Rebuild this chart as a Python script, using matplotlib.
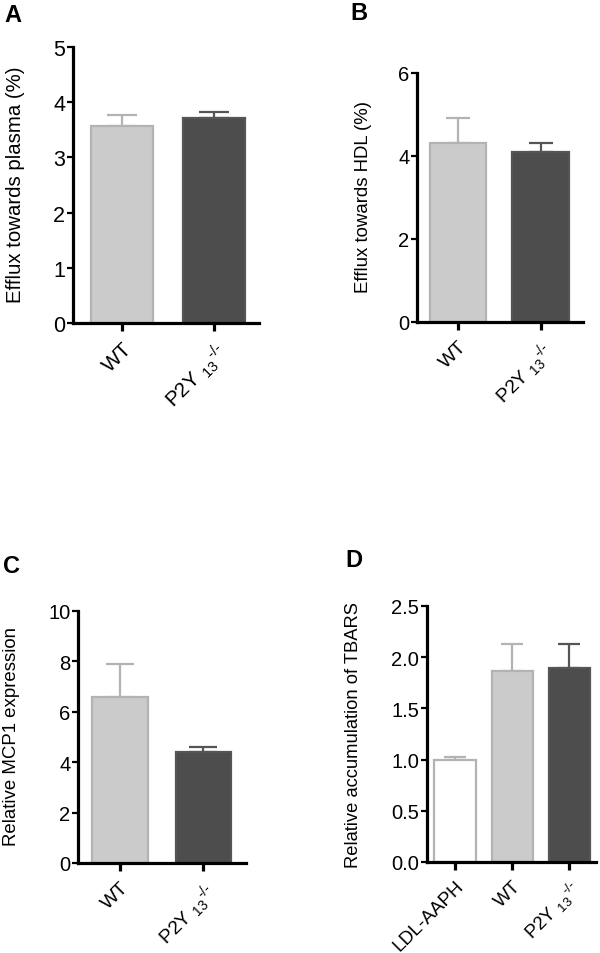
import numpy as np
import matplotlib.pyplot as plt

plt.rcParams['font.family'] = ['Liberation Sans', 'DejaVu Sans']
plt.rcParams['mathtext.fontset'] = 'custom'
plt.rcParams['mathtext.rm'] = 'Liberation Sans'
plt.rcParams['mathtext.it'] = 'Liberation Sans'

KO = r'P2Y $_{13}$$^{\text{-/-}}$'

# panel A - efflux towards plasma
a_labels = ['WT', KO]
a_mean = [3.56, 3.71]
a_err = [0.21, 0.11]

# panel B - efflux towards HDL
b_labels = ['WT', KO]
b_mean = [4.31, 4.10]
b_err = [0.61, 0.21]

# panel C - MCP1 expression
c_labels = ['WT', KO]
c_mean = [6.57, 4.41]
c_err = [1.34, 0.21]

# panel D - TBARS
d_labels = ['LDL-AAPH', 'WT', KO]
d_mean = [1.00, 1.865, 1.89]
d_err = [0.03, 0.265, 0.24]

LIGHT = ('#cbcbcb', '#b3b3b3')
DARK = ('#4d4d4d', '#555555')
WHITE = ('#ffffff', '#b3b3b3')

W, H = 600, 954
fig = plt.figure(figsize=(W / 100, H / 100), dpi=100)


def px_axes(x0, x1, ytop, ybot):
    return fig.add_axes([x0 / W, 1 - ybot / H, (x1 - x0) / W, (ybot - ytop) / H])


def panel(ax, labels, mean, err, styles, xlim, ylim, yticks, width, cap,
          tick_fs, xtick_fs, ytick_fmt=None):
    x = np.arange(len(labels))
    for i in range(len(labels)):
        fc, ec = styles[i]
        ax.bar(x[i], mean[i], width=width, color=fc, edgecolor=ec,
               linewidth=1.6, zorder=2)
        ax.errorbar(x[i], mean[i], yerr=[[0], [err[i]]], fmt='none',
                    ecolor=ec, elinewidth=1.6, capsize=cap, capthick=1.6,
                    zorder=1)
    ax.set_xlim(*xlim)
    ax.set_ylim(*ylim)
    ax.set_yticks(yticks)
    if ytick_fmt:
        ax.set_yticklabels([ytick_fmt.format(v) for v in yticks])
    ax.set_xticks(x)
    ax.set_xticklabels(labels, rotation=45, ha='right', va='top',
                       rotation_mode='anchor', fontsize=xtick_fs)
    for s in ['top', 'right']:
        ax.spines[s].set_visible(False)
    for s in ['left', 'bottom']:
        ax.spines[s].set_linewidth(2.3)
    ax.tick_params(axis='y', length=4.5, width=1.6, pad=1, labelsize=tick_fs)
    ax.tick_params(axis='x', length=6, width=2.3, pad=5)


def fig_text(x, y, s, **kw):
    fig.text(x / W, 1 - y / H, s, **kw)


axA = px_axes(73, 259, 48, 324)
panel(axA, a_labels, a_mean, a_err, [LIGHT, DARK], (-0.533, 1.49), (0, 5),
      [0, 1, 2, 3, 4, 5], 0.67, 11, 15.5, 15)

axB = px_axes(417, 583, 74, 323)
panel(axB, b_labels, b_mean, b_err, [LIGHT, DARK], (-0.497, 1.515), (0, 6),
      [0, 2, 4, 6], 0.68, 8.5, 14.5, 14)

axC = px_axes(78, 246, 612, 864)
panel(axC, c_labels, c_mean, c_err, [LIGHT, DARK], (-0.503, 1.509), (0, 10),
      [0, 2, 4, 6, 8, 10], 0.67, 10, 14.5, 14)

axD = px_axes(427, 596, 607, 863)
panel(axD, d_labels, d_mean, d_err, [WHITE, LIGHT, DARK], (-0.49, 2.47),
      (0, 2.5), [0, 0.5, 1.0, 1.5, 2.0, 2.5], 0.72, 8, 14.5, 13.5, '{:.1f}')

fig_text(16, 185, 'Efflux towards plasma (%)', rotation=90, ha='center',
         va='center', fontsize=14.7)
fig_text(363, 197, 'Efflux towards HDL (%)', rotation=90, ha='center',
         va='center', fontsize=13.4)
fig_text(12, 737, 'Relative MCP1 expression', rotation=90, ha='center',
         va='center', fontsize=13.4)
fig_text(354, 735, 'Relative accumulation of TBARS', rotation=90,
         ha='center', va='center', fontsize=13.2)

for x, y, s in [(4, 22, 'A'), (350, 20, 'B'), (3, 573, 'C'), (345, 567, 'D')]:
    fig_text(x, y, s, fontsize=17, fontweight='bold', ha='left',
             va='baseline')

fig.savefig('out.png', dpi=100)
